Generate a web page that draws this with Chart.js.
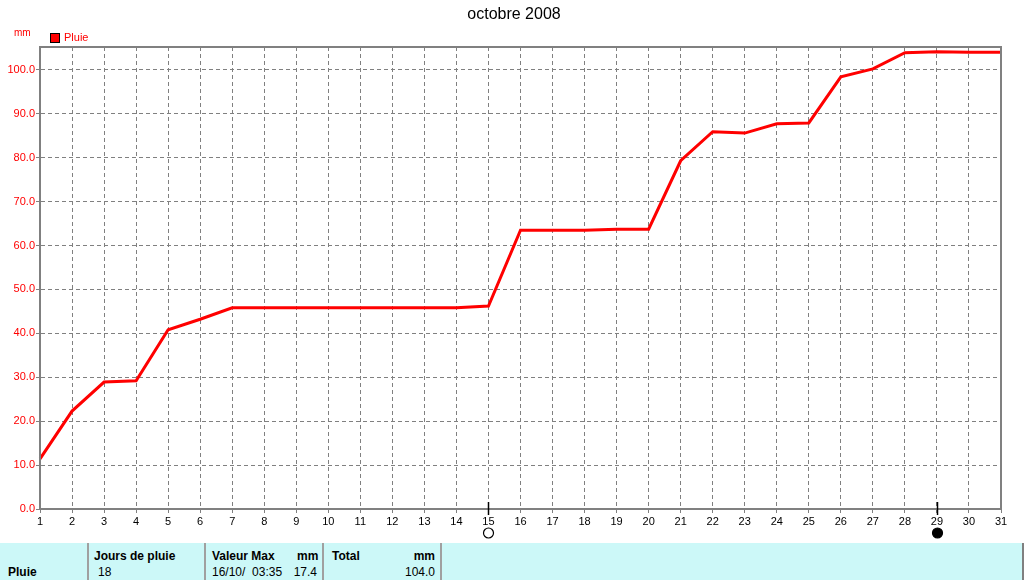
<!DOCTYPE html>
<html>
<head>
<meta charset="utf-8">
<script src="https://cdn.jsdelivr.net/npm/chart.js@4/dist/chart.umd.min.js"></script>
<style>
    body { margin: 0; background: #fff; font-family: "Liberation Sans", Arial, sans-serif; }
    #wrap { position: relative; width: 1024px; height: 580px; overflow: hidden; }
    #chartBox { position: absolute; left: 0; top: 0; width: 1024px; height: 543px; }
    #table { position: absolute; left: 0; top: 543px; width: 1022px; height: 37px; background: #ccf8f8; border-right: 2px solid #808080; font-size: 12px; color: #000; }
    .sep { position: absolute; top: 0; width: 2px; height: 37px; background: #a0a0a0; }
    .t { position: absolute; white-space: pre; }
    .b { font-weight: bold; }
</style>
</head>
<body>
<div id="wrap">
    <div id="chartBox"><canvas id="myChart" width="1024" height="543"></canvas></div>
    <div id="table">
        <div class="t b" style="left:8px; top:22px;">Pluie</div>
        <div class="sep" style="left:87px;"></div>
        <div class="t b" style="left:94px; top:6px;">Jours de pluie</div>
        <div class="t" style="left:98px; top:22px;">18</div>
        <div class="sep" style="left:204px;"></div>
        <div class="t b" style="left:212px; top:6px;">Valeur Max</div>
        <div class="t b" style="left:297px; top:6px; width:20px; text-align:right;">mm</div>
        <div class="t" style="left:212px; top:22px;">16/10/  03:35</div>
        <div class="t" style="left:277px; top:22px; width:40px; text-align:right;">17.4</div>
        <div class="sep" style="left:322px;"></div>
        <div class="t b" style="left:332px; top:6px;">Total</div>
        <div class="t b" style="left:405px; top:6px; width:30px; text-align:right;">mm</div>
        <div class="t" style="left:385px; top:22px; width:50px; text-align:right;">104.0</div>
        <div class="sep" style="left:440px;"></div>
    </div>
</div>
<script>
const days = ['1', '2', '3', '4', '5', '6', '7', '8', '9', '10', '11', '12', '13', '14', '15', '16',
    '17', '18', '19', '20', '21', '22', '23', '24', '25', '26', '27', '28', '29', '30', '31'];
// cumulative rain, mm
const rain = [11.4, 22.3, 28.9, 29.2, 40.8, 43.2, 45.8, 45.8, 45.8, 45.8, 45.8, 45.8, 45.8, 45.8, 46.2, 63.5,
    63.5, 63.5, 63.7, 63.7, 79.3, 85.9, 85.6, 87.7, 87.9, 98.4, 100.2, 103.9, 104.1, 104.0, 104.0];
const yTicks = [0, 10, 20, 30, 40, 50, 60, 70, 80, 90, 100];
const moonDays = [15, 29];
const moonFull = [true, false];

const GREY = '#808080';

const extras = {
    id: 'extras',
    afterDraw(chart) {
        const ctx = chart.ctx;
        const area = chart.chartArea;
        const xs = chart.scales.x;
        ctx.save();
        // frame
        ctx.strokeStyle = GREY;
        ctx.lineWidth = 2;
        ctx.strokeRect(area.left, area.top, area.right - area.left, area.bottom - area.top);
        // title
        ctx.fillStyle = '#000';
        ctx.font = '16px "Liberation Sans", Arial, sans-serif';
        ctx.textAlign = 'center';
        ctx.textBaseline = 'middle';
        ctx.fillText('octobre 2008', 514, 15);
        // unit + legend
        ctx.fillStyle = '#f00';
        ctx.font = '10px "Liberation Sans", Arial, sans-serif';
        ctx.textAlign = 'left';
        ctx.fillText('mm', 14, 33);
        ctx.fillRect(50, 33, 10, 10);
        ctx.strokeStyle = '#000';
        ctx.lineWidth = 1;
        ctx.strokeRect(50.5, 33.5, 9, 9);
        ctx.font = '11px "Liberation Sans", Arial, sans-serif';
        ctx.fillStyle = '#f00';
        ctx.fillText('Pluie', 64, 38);
        // moon phases
        moonDays.forEach((d, i) => {
            const x = Math.round(xs.getPixelForValue(d - 1)) + 0.5;
            ctx.strokeStyle = '#000';
            ctx.lineWidth = 1.5;
            ctx.beginPath();
            ctx.moveTo(x, 502);
            ctx.lineTo(x, 515);
            ctx.stroke();
            ctx.beginPath();
            ctx.arc(x, 533, 5, 0, Math.PI * 2);
            ctx.lineWidth = 1.2;
            if (moonFull[i]) {
                ctx.stroke();
            } else {
                ctx.fillStyle = '#000';
                ctx.fill();
                ctx.stroke();
            }
        });
        ctx.restore();
    }
};

const chartSettings = {
    type: 'line',
    data: {
        labels: days,
        datasets: [{
            label: 'Pluie',
            data: rain,
            borderColor: '#ff0000',
            backgroundColor: '#ff0000',
            borderWidth: 3,
            pointRadius: 0,
            tension: 0,
            fill: false
        }]
    },
    options: {
        responsive: false,
        animation: false,
        layout: { padding: { top: 47, right: 23, left: 0, bottom: 0 } },
        plugins: { legend: { display: false }, title: { display: false }, tooltip: { enabled: false } },
        scales: {
            x: {
                offset: false,
                ticks: {
                    color: '#000',
                    font: { size: 11, family: '"Liberation Sans", Arial, sans-serif' },
                    padding: 2,
                    maxRotation: 0,
                    autoSkip: false
                },
                grid: { color: GREY, tickLength: 4, tickColor: GREY, tickBorderDash: [], offset: false },
                border: { color: GREY, width: 2, dash: [4, 3] },
                afterFit: s => { s.height = 34; }
            },
            y: {
                min: 0,
                max: 105.2,
                afterBuildTicks: s => { s.ticks = yTicks.map(v => ({ value: v })); },
                ticks: {
                    color: '#ff0000',
                    font: { size: 11, family: '"Liberation Sans", Arial, sans-serif' },
                    padding: 1,
                    callback: v => v.toFixed(1)
                },
                grid: { color: GREY, tickLength: 4, tickColor: GREY, tickBorderDash: [] },
                border: { color: GREY, width: 2, dash: [4, 3] },
                afterFit: s => { s.width = 40; }
            }
        }
    },
    plugins: [extras]
};

window.onload = function () {
    const canvas = document.getElementById('myChart');
    new Chart(canvas.getContext('2d'), chartSettings);
};
</script>
</body>
</html>
